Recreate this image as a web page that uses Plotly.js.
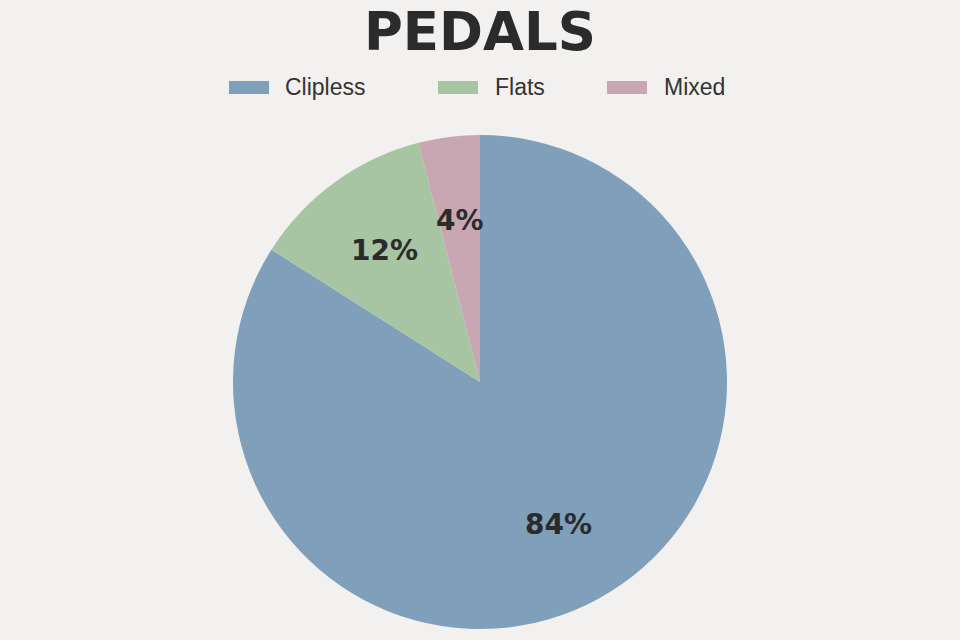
<!DOCTYPE html>
<html>
<head>
<meta charset="utf-8">
<script src="https://cdn.plot.ly/plotly-3.0.1.min.js"></script>
<style>html,body{margin:0;padding:0;background:#f2f1ef;}</style>
</head>
<body>
<div id="chart" style="width:960px;height:640px;"></div>
<script>
const labels = ["Clipless", "Flats", "Mixed"];
const values = [84, 12, 4];
const colors = ["#7f9fba", "#a7c5a2", "#c8a7b2"];
const chartTitle = "PEDALS";

const W = 960, H = 640;
const pieTop = 135, pieBottom = 629;
const legendSwatchX = [229, 438, 607];
const legendTextX = [283, 493, 662];
const legendY = 87;
const labelRadiusFrac = 0.66;

const shapes = labels.map((l, i) => ({
  type: "rect", xref: "paper", yref: "paper",
  x0: legendSwatchX[i] / W, x1: (legendSwatchX[i] + 40) / W,
  y0: 1 - (legendY + 7) / H, y1: 1 - (legendY - 6) / H,
  fillcolor: colors[i], line: {width: 0}
}));
const annotations = labels.map((l, i) => ({
  text: l, xref: "paper", yref: "paper",
  x: legendTextX[i] / W, y: 1 - legendY / H,
  xanchor: "left", yanchor: "middle", showarrow: false,
  font: {family: "Liberation Sans, Arial, sans-serif", size: 23, color: "#333333"}
}));

// percentage labels on each slice's bisector, derived from the values
const total = values.reduce((a, b) => a + b, 0);
const R = (pieBottom - pieTop) / 2;
const cx = W / 2, cy = (pieTop + pieBottom) / 2;
let cum = 0;
values.forEach((v, i) => {
  const mid = (cum + v / 2) / total * 2 * Math.PI; // clockwise from top
  cum += v;
  const px = cx + Math.sin(mid) * R * labelRadiusFrac;
  const py = cy - Math.cos(mid) * R * labelRadiusFrac;
  annotations.push({
    text: Math.round(v / total * 100) + "%",
    xref: "paper", yref: "paper",
    x: px / W, y: 1 - py / H,
    xanchor: "center", yanchor: "middle", showarrow: false,
    font: {family: "DejaVu Sans, sans-serif", size: 28, color: "#2b2b2b", weight: "bold"}
  });
});

const data = [{
  type: "pie",
  labels: labels,
  values: values,
  marker: {colors: colors, line: {width: 0}},
  sort: false,
  direction: "clockwise",
  rotation: 0,
  textinfo: "none",
  hoverinfo: "label+percent",
  domain: {x: [0, 1], y: [1 - pieBottom / H, 1 - pieTop / H]}
}];

const layout = {
  width: W, height: H,
  margin: {l: 0, r: 0, t: 0, b: 0},
  paper_bgcolor: "#f2f1ef",
  plot_bgcolor: "#f2f1ef",
  showlegend: false,
  title: {
    text: chartTitle,
    x: 0.5, xanchor: "center",
    y: 1 - 31 / H, yanchor: "middle",
    xref: "paper", yref: "paper",
    font: {family: "DejaVu Sans, sans-serif", size: 53, color: "#2b2b2b", weight: "bold"}
  },
  shapes: shapes,
  annotations: annotations
};

Plotly.newPlot("chart", data, layout, {displayModeBar: false, staticPlot: true});
</script>
</body>
</html>
